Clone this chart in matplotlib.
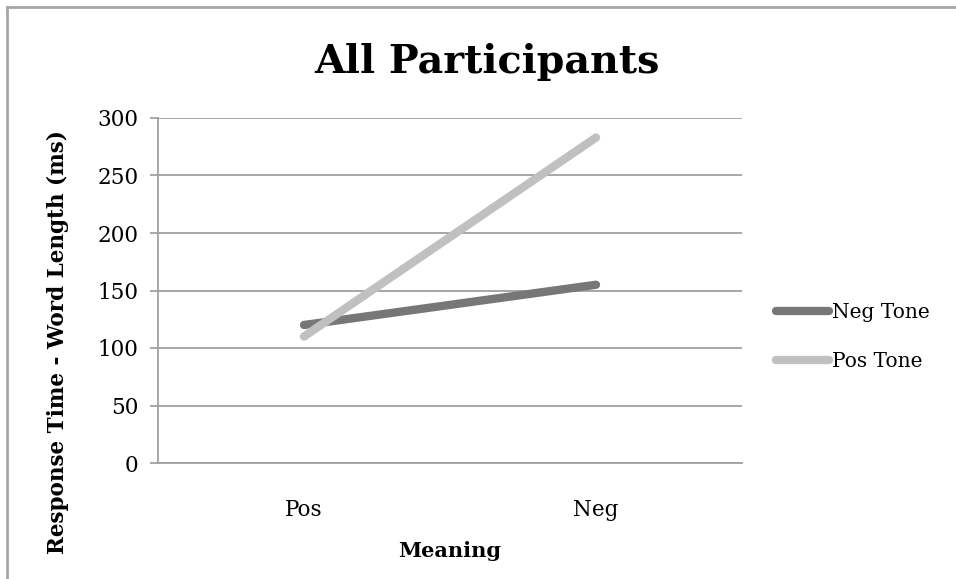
import matplotlib
matplotlib.use("Agg")
import matplotlib.pyplot as plt
from matplotlib.lines import Line2D

categories = ["Pos", "Neg"]
neg_tone = [120, 155]
pos_tone = [110, 283]
y_ticks = [0, 50, 100, 150, 200, 250, 300]

plt.rcParams["font.family"] = ["DejaVu Serif"]

W, H = 956, 579
fig = plt.figure(figsize=(W / 100, H / 100), dpi=100)

# chart frame (top and left edges)
frame_kw = dict(transform=fig.transFigure, color="#a6a6a6", linewidth=2)
fig.lines.append(Line2D([7 / W, 7 / W], [0, 1 - 7 / H], **frame_kw))
fig.lines.append(Line2D([7 / W, 1], [1 - 7 / H, 1 - 7 / H], **frame_kw))

ax = fig.add_axes([158 / W, 1 - 463 / H, (742 - 158) / W, (463 - 118) / H])
x = [0.5, 1.5]
ax.plot(x, neg_tone, color="#777777", lw=6, solid_capstyle="round", label="Neg Tone", zorder=3)
ax.plot(x, pos_tone, color="#c0c0c0", lw=6, solid_capstyle="round", label="Pos Tone", zorder=3)

ax.set_xlim(0, 2)
ax.set_ylim(0, 300)
ax.set_yticks(y_ticks)
ax.set_xticks(x)
ax.set_xticklabels(categories)
ax.yaxis.grid(True, color="#a0a0a0", linewidth=1.3)
ax.set_axisbelow(True)
for s in ["top", "right"]:
    ax.spines[s].set_visible(False)
for s in ["left", "bottom"]:
    ax.spines[s].set_color("#a0a0a0")
    ax.spines[s].set_linewidth(1.3)
ax.tick_params(axis="y", length=6, width=1.3, color="#a0a0a0", labelsize=15.5, pad=8)
ax.tick_params(axis="x", length=0, labelsize=15.5, pad=26)

ax.set_xlabel("Meaning", fontsize=15, fontweight="bold", labelpad=14)
ax.set_ylabel("Response Time - Word Length (ms)", fontsize=15.5, fontweight="bold")
ax.yaxis.set_label_coords(-0.152, 0.35)
fig.text(487 / W, 1 - 62 / H, "All Participants", fontsize=28.5, fontweight="bold",
         ha="center", va="center")

fig.legend(loc="center left", bbox_to_anchor=(776 / W, 1 - 337 / H), frameon=False,
           borderaxespad=0, borderpad=0,
           fontsize=14.5, handlelength=2.65, handletextpad=0.15, labelspacing=1.45)

fig.savefig("out.png", dpi=100)
